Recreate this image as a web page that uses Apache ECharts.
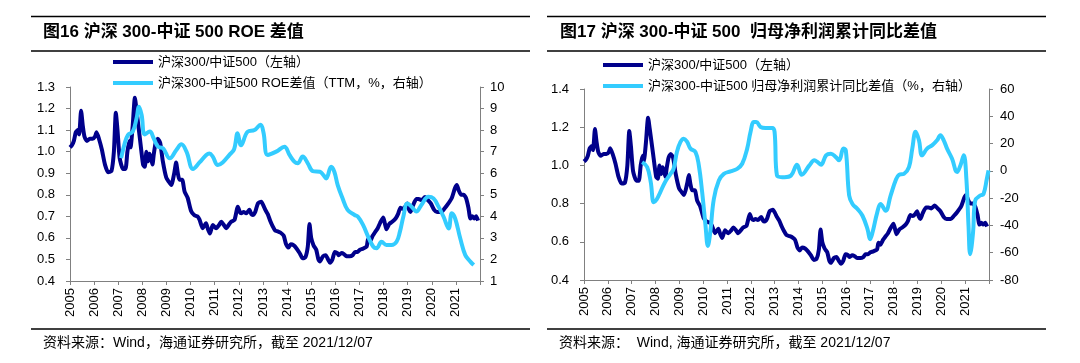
<!DOCTYPE html>
<html>
<head>
<meta charset="utf-8">
<script src="https://cdn.jsdelivr.net/npm/echarts@6/dist/echarts.min.js"></script>
<style>
html,body{margin:0;padding:0;background:#fff;}
#chart{width:1080px;height:363px;}
</style>
</head>
<body>
<div id="chart"></div>
<script>
// ---------- data ----------
const yearLabels = ['2005','2006','2007','2008','2009','2010','2011','2012','2013','2014','2015','2016','2017','2018','2019','2020','2021'];

const ratioName = '沪深300/中证500（左轴）';
const roeName = '沪深300-中证500 ROE差值（TTM，%，右轴）';
const profitName = '沪深300-中证500 归母净利润累计同比差值（%，右轴）';

// 沪深300/中证500 (left axes of both charts)
const ratioSeries = [
[2005.00,1.02],[2005.08,1.03],[2005.16,1.05],[2005.24,1.09],[2005.32,1.10],[2005.38,1.08],[2005.46,1.19],[2005.53,1.12],
[2005.60,1.07],[2005.70,1.05],[2005.82,1.06],[2005.94,1.06],[2006.04,1.07],[2006.10,1.09],[2006.20,1.06],[2006.32,1.01],
[2006.45,0.94],[2006.58,0.905],[2006.72,0.91],[2006.82,1.00],[2006.90,1.18],[2006.97,1.10],[2007.06,0.97],[2007.20,0.92],
[2007.30,0.92],[2007.38,1.00],[2007.46,1.05],[2007.51,1.02],[2007.60,1.12],[2007.69,1.25],[2007.76,1.19],[2007.90,1.06],
[2008.03,0.94],[2008.10,0.93],[2008.17,1.00],[2008.24,0.955],[2008.30,0.99],[2008.36,0.97],[2008.42,0.94],[2008.47,0.985],
[2008.55,1.04],[2008.64,1.06],[2008.74,1.04],[2008.85,0.955],[2008.99,0.88],[2009.10,0.86],[2009.20,0.845],[2009.33,0.905],
[2009.40,0.95],[2009.47,0.90],[2009.54,0.87],[2009.65,0.87],[2009.75,0.815],[2009.88,0.785],[2010.02,0.725],[2010.16,0.705],
[2010.28,0.70],[2010.37,0.685],[2010.50,0.645],[2010.64,0.668],[2010.72,0.64],[2010.80,0.62],[2010.92,0.66],[2011.06,0.645],
[2011.18,0.66],[2011.27,0.675],[2011.38,0.66],[2011.47,0.645],[2011.58,0.66],[2011.68,0.675],[2011.82,0.683],[2011.96,0.745],
[2012.04,0.72],[2012.10,0.714],[2012.20,0.72],[2012.30,0.714],[2012.44,0.73],[2012.52,0.71],[2012.58,0.706],[2012.68,0.72],
[2012.79,0.76],[2012.93,0.768],[2013.02,0.75],[2013.10,0.73],[2013.20,0.71],[2013.30,0.68],[2013.40,0.655],[2013.50,0.635],
[2013.62,0.63],[2013.72,0.625],[2013.86,0.61],[2013.96,0.57],[2014.06,0.555],[2014.15,0.57],[2014.28,0.565],[2014.40,0.55],
[2014.52,0.53],[2014.65,0.505],[2014.76,0.51],[2014.86,0.56],[2014.93,0.665],[2015.00,0.60],[2015.10,0.565],[2015.21,0.545],
[2015.30,0.50],[2015.36,0.49],[2015.49,0.515],[2015.60,0.52],[2015.70,0.50],[2015.78,0.485],[2015.88,0.50],[2015.98,0.535],
[2016.08,0.53],[2016.14,0.52],[2016.26,0.53],[2016.36,0.525],[2016.46,0.515],[2016.60,0.515],[2016.72,0.52],[2016.82,0.535],
[2016.92,0.535],[2017.02,0.545],[2017.15,0.55],[2017.30,0.56],[2017.36,0.595],[2017.44,0.585],[2017.55,0.61],[2017.64,0.625],
[2017.76,0.645],[2017.86,0.67],[2017.99,0.695],[2018.06,0.665],[2018.12,0.64],[2018.24,0.665],[2018.36,0.675],[2018.50,0.69],
[2018.60,0.71],[2018.70,0.74],[2018.80,0.735],[2018.90,0.745],[2018.98,0.76],[2019.06,0.73],[2019.12,0.72],[2019.22,0.75],
[2019.36,0.78],[2019.46,0.78],[2019.58,0.775],[2019.72,0.79],[2019.84,0.775],[2019.96,0.76],[2020.10,0.73],[2020.22,0.72],
[2020.40,0.72],[2020.52,0.735],[2020.66,0.755],[2020.83,0.785],[2020.96,0.83],[2021.04,0.845],[2021.12,0.82],[2021.22,0.80],
[2021.32,0.80],[2021.42,0.785],[2021.52,0.74],[2021.60,0.69],[2021.68,0.70],[2021.76,0.69],[2021.84,0.70],[2021.92,0.68]
];

// 沪深300-中证500 ROE差值 (TTM, %)
const roeDiff = [
[2007.12,6.7],[2007.26,7.35],[2007.40,7.77],[2007.60,7.93],[2007.76,8.55],[2007.86,9.08],[2007.97,8.7],[2008.10,7.8],
[2008.31,7.93],[2008.47,7.62],[2008.65,7.23],[2008.86,7.15],[2009.14,6.69],[2009.41,7.08],[2009.62,7.34],[2009.83,7.0],
[2010.10,6.2],[2010.37,6.5],[2010.65,6.85],[2010.78,6.92],[2010.92,6.77],[2011.13,6.38],[2011.33,6.5],[2011.61,6.85],
[2011.80,7.1],[2011.95,7.85],[2012.09,7.3],[2012.37,7.93],[2012.65,8.0],[2012.90,8.25],[2013.02,7.9],[2013.20,6.85],
[2013.55,7.0],[2013.89,7.23],[2014.10,6.85],[2014.30,6.54],[2014.44,6.46],[2014.65,6.77],[2014.86,6.46],[2015.07,6.1],
[2015.36,6.07],[2015.50,5.92],[2015.62,5.76],[2015.83,6.3],[2015.96,6.07],[2016.10,5.45],[2016.30,4.84],[2016.51,4.3],
[2016.80,4.06],[2016.94,3.98],[2017.15,3.6],[2017.36,3.06],[2017.57,2.6],[2017.71,2.52],[2017.92,2.82],[2018.12,2.67],
[2018.33,2.67],[2018.54,2.82],[2018.68,3.29],[2018.82,3.98],[2018.99,4.6],[2019.20,4.4],[2019.36,4.22],[2019.57,4.53],
[2019.86,4.91],[2020.07,4.83],[2020.28,4.45],[2020.49,3.98],[2020.70,3.44],[2020.83,4.14],[2020.97,3.9],[2021.18,2.98],
[2021.39,2.2],[2021.60,1.9],[2021.74,1.74]
];

// 沪深300-中证500 归母净利润累计同比差值 (%)
const profitDiff = [
[2007.44,6.4],[2007.65,2.8],[2007.80,-8],[2007.93,-23],[2008.05,-21],[2008.20,-15.7],[2008.40,-8.3],[2008.63,-2.2],
[2008.76,1.5],[2008.90,13.8],[2009.05,21.2],[2009.19,23.6],[2009.33,21.2],[2009.47,16.3],[2009.68,13.8],[2009.82,4],
[2009.96,-15.7],[2010.10,-40],[2010.20,-55],[2010.30,-45],[2010.45,-20.6],[2010.66,-7.1],[2010.87,-2.2],[2011.15,-0.4],
[2011.43,1.5],[2011.64,5.2],[2011.85,16.3],[2011.99,28.5],[2012.13,35.9],[2012.23,35.9],[2012.41,32.2],[2012.62,31.5],
[2012.90,31.5],[2013.00,28.5],[2013.10,-3.4],[2013.32,-4.6],[2013.42,-4.6],[2013.69,-3.4],[2013.94,4.5],[2014.14,-2.9],
[2014.46,4.0],[2014.67,7.7],[2014.81,6.4],[2014.95,4.5],[2015.16,11.4],[2015.36,12.6],[2015.57,10.1],[2015.71,7.7],
[2015.89,16.3],[2015.99,15],[2016.13,-18.1],[2016.27,-24.3],[2016.48,-28],[2016.69,-32.9],[2016.90,-42.7],[2017.01,-50.1],
[2017.11,-45.2],[2017.31,-30.4],[2017.45,-24.3],[2017.66,-29.2],[2017.87,-18.1],[2018.08,-7.1],[2018.22,-2.9],[2018.43,-2.2],
[2018.64,2.7],[2018.78,16.3],[2018.92,28.6],[2019.06,22.4],[2019.19,11.4],[2019.40,16.3],[2019.61,18.7],[2019.82,22.4],
[2019.96,26.1],[2020.10,22.4],[2020.24,16.3],[2020.45,8.9],[2020.66,-0.9],[2020.80,4],[2020.94,11.4],[2021.05,-5.8],
[2021.14,-40.2],[2021.21,-61.1],[2021.33,-45.2],[2021.42,-21.8],[2021.63,-18.1],[2021.77,-16.9],[2021.91,-5.8],[2021.98,0.3]
];

// ---------- chart ----------
const FONT = "'Liberation Sans', 'Noto Sans CJK SC', sans-serif";
const DARK = '#00008B';
const LIGHT = '#33CCFF';
const AXIS = '#808080';

function xAxisCfg(gridIndex) {
  return {
    type: 'value', gridIndex: gridIndex, min: 2005, max: 2022, interval: 1,
    axisLine: { show: true, onZero: false, lineStyle: { color: AXIS, width: 1 } },
    axisTick: { show: true, length: 4, lineStyle: { color: AXIS } },
    splitLine: { show: false },
    axisLabel: {
      rotate: 90, margin: 7, fontSize: 13, color: '#000', fontFamily: FONT,
      formatter: function (v) { const i = Math.round(v) - 2005; return yearLabels[i] || ''; }
    }
  };
}
function yAxisCfg(gridIndex, pos, min, max, interval, margin, digits) {
  return {
    type: 'value', gridIndex: gridIndex, position: pos, min: min, max: max, interval: interval,
    axisLine: { show: true, lineStyle: { color: AXIS, width: 1 } },
    axisTick: { show: true, length: 4, lineStyle: { color: AXIS } },
    splitLine: { show: false },
    axisLabel: {
      margin: margin, fontSize: 13, color: '#000', fontFamily: FONT,
      formatter: function (v) { return digits ? v.toFixed(digits) : String(Math.round(v)); }
    }
  };
}

const chart = echarts.init(document.getElementById('chart'), null, { renderer: 'canvas' });
const legendText = { fontSize: 13, color: '#000', fontFamily: FONT, lineHeight: 14 };

chart.setOption({
  animation: false,
  backgroundColor: '#fff',
  grid: [
    { left: 70, top: 87, width: 410, height: 194 },
    { left: 584, top: 89, width: 405, height: 191 }
  ],
  legend: [
    { data: [ratioName, roeName], orient: 'vertical', left: 113, top: 55, padding: 0,
      itemWidth: 40, itemHeight: 4, itemGap: 7, icon: 'rect', textStyle: legendText, selectedMode: false },
    { data: [ratioName, profitName], orient: 'vertical', left: 603, top: 58, padding: 0,
      itemWidth: 40, itemHeight: 4, itemGap: 7, icon: 'rect', textStyle: legendText, selectedMode: false }
  ],
  xAxis: [xAxisCfg(0), xAxisCfg(1)],
  yAxis: [
    yAxisCfg(0, 'left', 0.4, 1.3, 0.1, 15, 1),
    yAxisCfg(0, 'right', 1, 10, 1, 10, 0),
    yAxisCfg(1, 'left', 0.4, 1.4, 0.2, 15, 1),
    yAxisCfg(1, 'right', -80, 60, 20, 11, 0)
  ],
  series: [
    { name: ratioName, type: 'line', xAxisIndex: 0, yAxisIndex: 0, data: ratioSeries, showSymbol: false,
      smooth: 0.2, lineStyle: { color: DARK, width: 4 }, itemStyle: { color: DARK } },
    { name: roeName, type: 'line', xAxisIndex: 0, yAxisIndex: 1, data: roeDiff, showSymbol: false,
      smooth: 0.4, lineStyle: { color: LIGHT, width: 4 }, itemStyle: { color: LIGHT } },
    { name: ratioName, type: 'line', xAxisIndex: 1, yAxisIndex: 2, data: ratioSeries, showSymbol: false,
      smooth: 0.2, lineStyle: { color: DARK, width: 4 }, itemStyle: { color: DARK } },
    { name: profitName, type: 'line', xAxisIndex: 1, yAxisIndex: 3, data: profitDiff, showSymbol: false,
      smooth: 0.4, lineStyle: { color: LIGHT, width: 4 }, itemStyle: { color: LIGHT } }
  ],
  graphic: [
    { type: 'line', shape: { x1: 31, y1: 16.5, x2: 530, y2: 16.5 }, style: { stroke: '#000', lineWidth: 1.5 } },
    { type: 'line', shape: { x1: 31, y1: 51, x2: 530, y2: 51 }, style: { stroke: '#000', lineWidth: 1.5 } },
    { type: 'line', shape: { x1: 31, y1: 329, x2: 530, y2: 329 }, style: { stroke: '#000', lineWidth: 1.5 } },
    { type: 'line', shape: { x1: 547, y1: 16.5, x2: 1046, y2: 16.5 }, style: { stroke: '#000', lineWidth: 1.5 } },
    { type: 'line', shape: { x1: 547, y1: 51, x2: 1046, y2: 51 }, style: { stroke: '#000', lineWidth: 1.5 } },
    { type: 'line', shape: { x1: 547, y1: 329, x2: 1046, y2: 329 }, style: { stroke: '#000', lineWidth: 1.5 } },
    { type: 'text', left: 43, top: 24, style: { text: '图16 沪深 300-中证 500 ROE 差值', font: "bold 17px 'Liberation Sans', 'Noto Sans CJK SC'", fill: '#000' } },
    { type: 'text', left: 560, top: 24, style: { text: '图17 沪深 300-中证 500  归母净利润累计同比差值', font: "bold 17px 'Liberation Sans', 'Noto Sans CJK SC'", fill: '#000' } },
    { type: 'text', left: 43, top: 336, style: { text: '资料来源：Wind，海通证券研究所，截至 2021/12/07', font: "14px 'Liberation Sans', 'Noto Sans CJK SC'", fill: '#000' } },
    { type: 'text', left: 559, top: 336, style: { text: '资料来源：  Wind, 海通证券研究所，截至 2021/12/07', font: "14px 'Liberation Sans', 'Noto Sans CJK SC'", fill: '#000' } }
  ]
});
</script>
</body>
</html>
